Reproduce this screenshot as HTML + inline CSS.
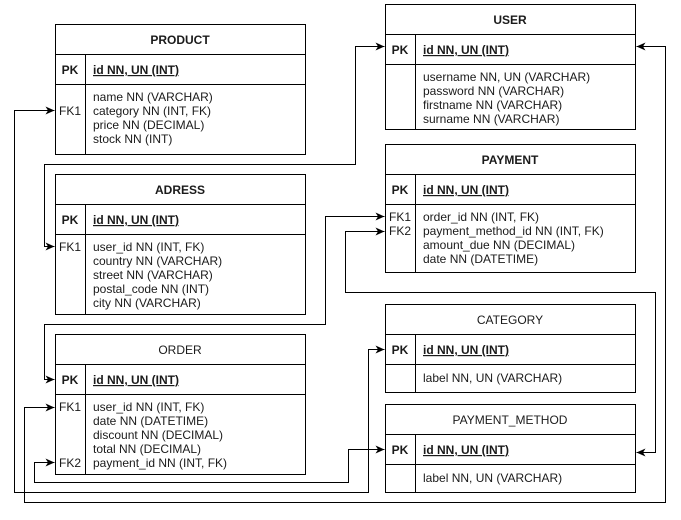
<!DOCTYPE html>
<html><head><meta charset="utf-8"><style>
html,body{margin:0;padding:0;background:#fff;}
svg{display:block;font-family:"Liberation Sans",Arial,sans-serif;font-size:12px;}
.t{font-weight:bold;}
</style></head><body>
<svg width="681" height="520" viewBox="0 0 681 520" xmlns="http://www.w3.org/2000/svg">
<defs><marker id="a" markerWidth="10" markerHeight="10" refX="9" refY="5" orient="auto-start-reverse" markerUnits="userSpaceOnUse"><path d="M0,1 L9,5 L0,9 L2.5,5 Z" fill="#000"/></marker></defs>
<g fill="none" stroke="#000" stroke-width="1" marker-start="url(#a)" marker-end="url(#a)">
<polyline points="54.5,110.5 14.5,110.5 14.5,492.5 368.5,492.5 368.5,349.5 384.5,349.5"/>
<polyline points="384.5,46.5 355.5,46.5 355.5,164.5 44.5,164.5 44.5,246.5 54.5,246.5"/>
<polyline points="384.5,216.5 325.5,216.5 325.5,324.5 44.5,324.5 44.5,379.5 54.5,379.5"/>
<polyline points="384.5,231.5 345.5,231.5 345.5,292.5 655.5,292.5 655.5,452.5 636.5,452.5"/>
<polyline points="54.5,407.5 24.5,407.5 24.5,502.5 665.5,502.5 665.5,46.5 636.5,46.5"/>
<polyline points="54.5,462.5 34.5,462.5 34.5,482.5 348.5,482.5 348.5,449.5 384.5,449.5"/>
</g>
<g fill="#fff" stroke="#000">
<rect x="55.5" y="24.5" width="250" height="130"/><line x1="55.5" y1="54.5" x2="305.5" y2="54.5"/><line x1="55.5" y1="84.5" x2="305.5" y2="84.5"/><line x1="85.5" y1="54.5" x2="85.5" y2="154.5"/>
<rect x="55.5" y="174.5" width="250" height="140"/><line x1="55.5" y1="204.5" x2="305.5" y2="204.5"/><line x1="55.5" y1="234.5" x2="305.5" y2="234.5"/><line x1="85.5" y1="204.5" x2="85.5" y2="314.5"/>
<rect x="55.5" y="334.5" width="250" height="140"/><line x1="55.5" y1="364.5" x2="305.5" y2="364.5"/><line x1="55.5" y1="394.5" x2="305.5" y2="394.5"/><line x1="85.5" y1="364.5" x2="85.5" y2="474.5"/>
<rect x="385.5" y="4.5" width="250" height="125"/><line x1="385.5" y1="34.5" x2="635.5" y2="34.5"/><line x1="385.5" y1="64.5" x2="635.5" y2="64.5"/><line x1="415.5" y1="34.5" x2="415.5" y2="129.5"/>
<rect x="385.5" y="144.5" width="250" height="128"/><line x1="385.5" y1="174.5" x2="635.5" y2="174.5"/><line x1="385.5" y1="204.5" x2="635.5" y2="204.5"/><line x1="415.5" y1="174.5" x2="415.5" y2="272.5"/>
<rect x="385.5" y="304.5" width="250" height="88"/><line x1="385.5" y1="334.5" x2="635.5" y2="334.5"/><line x1="385.5" y1="364.5" x2="635.5" y2="364.5"/><line x1="415.5" y1="334.5" x2="415.5" y2="392.5"/>
<rect x="385.5" y="404.5" width="250" height="88"/><line x1="385.5" y1="434.5" x2="635.5" y2="434.5"/><line x1="385.5" y1="464.5" x2="635.5" y2="464.5"/><line x1="415.5" y1="434.5" x2="415.5" y2="492.5"/>
</g>
<g fill="#1a1a1a">
<text class="t" x="180" y="44" text-anchor="middle">PRODUCT</text>
<text class="t" x="70" y="74" text-anchor="middle">PK</text><text class="t" x="93" y="74" text-decoration="underline">id NN, UN (INT)</text>
<text x="70" y="115" text-anchor="middle">FK1</text>
<text x="93" y="101">name NN (VARCHAR)</text><text x="93" y="115">category NN (INT, FK)</text><text x="93" y="129">price NN (DECIMAL)</text><text x="93" y="143">stock NN (INT)</text>

<text class="t" x="180" y="194" text-anchor="middle">ADRESS</text>
<text class="t" x="70" y="224" text-anchor="middle">PK</text><text class="t" x="93" y="224" text-decoration="underline">id NN, UN (INT)</text>
<text x="70" y="251" text-anchor="middle">FK1</text>
<text x="93" y="251">user_id NN (INT, FK)</text><text x="93" y="265">country NN (VARCHAR)</text><text x="93" y="279">street NN (VARCHAR)</text><text x="93" y="293">postal_code NN (INT)</text><text x="93" y="307">city NN (VARCHAR)</text>

<text x="180" y="354" text-anchor="middle">ORDER</text>
<text class="t" x="70" y="384" text-anchor="middle">PK</text><text class="t" x="93" y="384" text-decoration="underline">id NN, UN (INT)</text>
<text x="70" y="411" text-anchor="middle">FK1</text><text x="70" y="467" text-anchor="middle">FK2</text>
<text x="93" y="411">user_id NN (INT, FK)</text><text x="93" y="425">date NN (DATETIME)</text><text x="93" y="439">discount NN (DECIMAL)</text><text x="93" y="453">total NN (DECIMAL)</text><text x="93" y="467">payment_id NN (INT, FK)</text>

<text class="t" x="510" y="24" text-anchor="middle">USER</text>
<text class="t" x="400" y="54" text-anchor="middle">PK</text><text class="t" x="423" y="54" text-decoration="underline">id NN, UN (INT)</text>
<text x="423" y="81">username NN, UN (VARCHAR)</text><text x="423" y="95">password NN (VARCHAR)</text><text x="423" y="109">firstname NN (VARCHAR)</text><text x="423" y="123">surname NN  (VARCHAR)</text>

<text class="t" x="510" y="164" text-anchor="middle">PAYMENT</text>
<text class="t" x="400" y="194" text-anchor="middle">PK</text><text class="t" x="423" y="194" text-decoration="underline">id NN, UN (INT)</text>
<text x="400" y="221" text-anchor="middle">FK1</text><text x="400" y="235" text-anchor="middle">FK2</text>
<text x="423" y="221">order_id NN (INT, FK)</text><text x="423" y="235">payment_method_id NN (INT, FK)</text><text x="423" y="249">amount_due NN (DECIMAL)</text><text x="423" y="263">date NN (DATETIME)</text>

<text x="510" y="324" text-anchor="middle">CATEGORY</text>
<text class="t" x="400" y="354" text-anchor="middle">PK</text><text class="t" x="423" y="354" text-decoration="underline">id NN, UN (INT)</text>
<text x="423" y="382">label NN, UN (VARCHAR)</text>

<text x="510" y="424" text-anchor="middle">PAYMENT_METHOD</text>
<text class="t" x="400" y="454" text-anchor="middle">PK</text><text class="t" x="423" y="454" text-decoration="underline">id NN, UN (INT)</text>
<text x="423" y="482">label NN, UN (VARCHAR)</text>
</g>
</svg>
</body></html>
